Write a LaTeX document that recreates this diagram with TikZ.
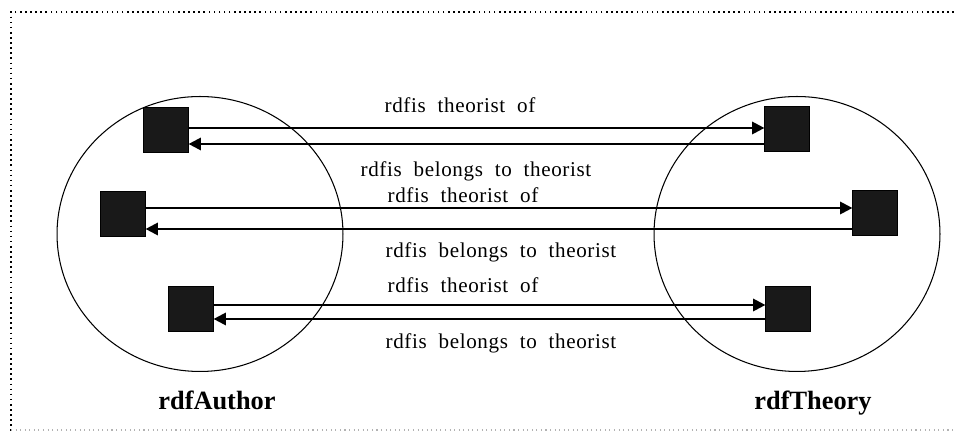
\documentclass[tikz,border=0pt]{standalone}
\usepackage{fontspec}
\setmainfont{Liberation Serif}
\newfontfamily\relfont{Liberation Serif}[LetterSpace=3,WordSpace=2]
\usetikzlibrary{arrows.meta,shapes.geometric}

\begin{document}
\begin{tikzpicture}[x=0.02cm,y=-0.02cm,box/.style={draw,fill=black!90,minimum size=0.89cm,inner sep=0pt},class/.style={ellipse,draw,line width=0.6pt,minimum width=5.72cm,minimum height=5.5cm,inner sep=0pt},link/.style={line width=1.3pt,-{Triangle[length=7pt,width=7pt]}},rel/.style={font=\relfont\fontsize{12}{14}\selectfont,inner sep=0pt,anchor=base},title/.style={font=\bfseries\fontsize{15}{17}\selectfont,inner sep=0pt,anchor=base}]
\useasboundingbox (0,0) rectangle (954,431);
\draw[dotted,line width=0.9pt] (954,12) -- (11,12) -- (11,431);
\draw[dotted,gray!60,line width=0.6pt] (11,430) -- (954,430);
\coordinate (A1) at (166,130);
\coordinate (A2) at (123,214);
\coordinate (A3) at (191,309);
\coordinate (T1) at (787,129);
\coordinate (T2) at (875,213);
\coordinate (T3) at (788,309);
\node[class] (author) at (200,234) {};
\node[class] (theory) at (797,234) {};
\node[box] (a1) at (A1) {};
\node[box] (a2) at (A2) {};
\node[box] (a3) at (A3) {};
\node[box] (t1) at (T1) {};
\node[box] (t2) at (T2) {};
\node[box] (t3) at (T3) {};
\draw[link] (a1.east |- 0,128) -- (t1.west |- 0,128);
\draw[link] (t1.west |- 0,144) -- (a1.east |- 0,144);
\draw[link] (a2.east |- 0,208) -- (t2.west |- 0,208);
\draw[link] (t2.west |- 0,229) -- (a2.east |- 0,229);
\draw[link] (a3.east |- 0,305) -- (t3.west |- 0,305);
\draw[link] (t3.west |- 0,319) -- (a3.east |- 0,319);
\node[rel] (of1) at (460,113) {rdfis theorist of};
\node[rel] (to1) at (476,177) {rdfis belongs to theorist};
\node[rel] (of2) at (463,203) {rdfis theorist of};
\node[rel] (to2) at (501,258) {rdfis belongs to theorist};
\node[rel] (of3) at (463,293) {rdfis theorist of};
\node[rel] (to3) at (501,349) {rdfis belongs to theorist};
\node[title] (authorname) at (217,410) {rdfAuthor};
\node[title] (theoryname) at (813,410) {rdfTheory};
\end{tikzpicture}
\end{document}
